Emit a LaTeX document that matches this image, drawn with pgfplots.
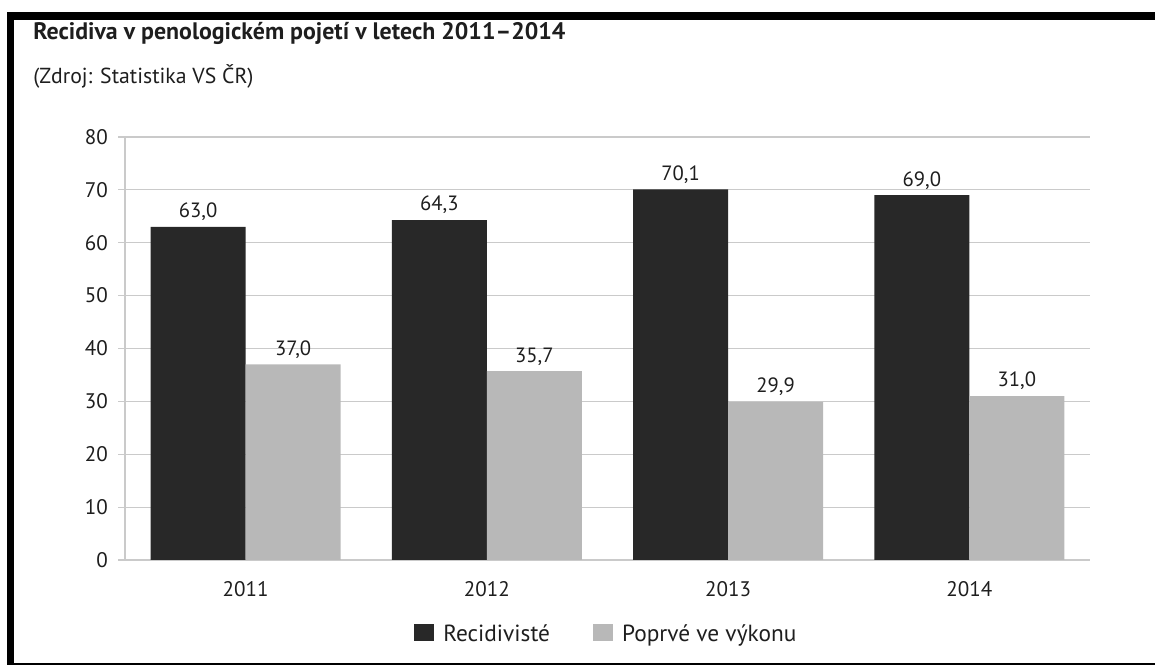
\documentclass[border=0pt]{standalone}
\usepackage{pgfplots}
\pgfplotsset{compat=1.18}
\usepackage{fontspec}
\setmainfont{PT Sans}
\definecolor{darkbar}{HTML}{282828}
\definecolor{lightbar}{HTML}{B8B8B8}
\definecolor{gridc}{HTML}{CACACA}
\definecolor{txt}{HTML}{1E1E1E}
\begin{document}
\begin{tikzpicture}
\path[use as bounding box] (0,0) rectangle (866.25pt,499.5pt);
% frame
\fill[black] (5.25pt,1.5pt) rectangle (10.5pt,490.5pt);
\fill[black] (5.25pt,484.5pt) rectangle (866.25pt,490.5pt);
\draw[black,line width=1.2pt] (5.25pt,1.5pt) -- (866.25pt,1.5pt);
% titles
\node[anchor=base west,inner sep=0pt,text=txt] at (24.75pt,469.5pt) {\fontsize{17.9}{21}\selectfont\bfseries Recidiva v penologickém pojetí v letech 2011–2014};
\node[anchor=base west,inner sep=0pt,text=txt] at (24.75pt,436.5pt) {\fontsize{16.3}{19}\selectfont (Zdroj: Statistika VS ČR)};
\begin{axis}[
  at={(93.75pt,79.5pt)}, anchor=south west,
  scale only axis, width=723.75pt, height=317.25pt,
  ybar=0pt, bar width=71.25pt,
  xmin=-0.5, xmax=3.5, ymin=0, ymax=80,
  xtick={0,1,2,3}, xticklabels={2011,2012,2013,2014},
  x tick style={draw=none},
  extra x ticks={-0.5,0.5,1.5,2.5,3.5}, extra x tick labels={},
  extra x tick style={major tick length=5.25pt, tick align=outside, tick style={draw=gridc, line width=0.8pt}},
  ytick={0,10,...,80},
  y tick style={draw=gridc, line width=0.8pt},
  major tick length=5.25pt, tick align=outside,
  ymajorgrids, grid style={draw=gridc, line width=0.8pt},
  axis x line*=bottom, axis y line*=left,
  axis line style={draw=gridc, line width=0.8pt},
  tick label style={font=\fontsize{15.8}{18}\selectfont, text=txt},
  xticklabel style={yshift=-7pt},
  yticklabel style={xshift=-4pt},
  /pgf/number format/assume math mode=true,
  nodes near coords,
  nodes near coords style={font=\fontsize{15.5}{18}\selectfont, text=txt, yshift=1pt, /pgf/number format/.cd, fixed, fixed zerofill, precision=1, use comma, assume math mode=true},
  legend columns=2,
  legend style={at={(0.499,-0.175)}, anchor=center, draw=none, fill=none,
    font=\fontsize{17.5}{20}\selectfont, text=txt,
    /tikz/every even column/.append style={column sep=30pt},
    /tikz/every odd column/.append style={column sep=5pt}},
  legend image code/.code={\fill[#1] (0pt,-5pt) rectangle (15pt,7.75pt);},
]
\addplot[fill=darkbar, draw=none] coordinates {(0,63.0) (1,64.3) (2,70.1) (3,69.0)};
\addplot[fill=lightbar, draw=none] coordinates {(0,37.0) (1,35.7) (2,29.9) (3,31.0)};
\legend{Recidivisté, Poprvé ve výkonu}
\end{axis}
\end{tikzpicture}
\end{document}
